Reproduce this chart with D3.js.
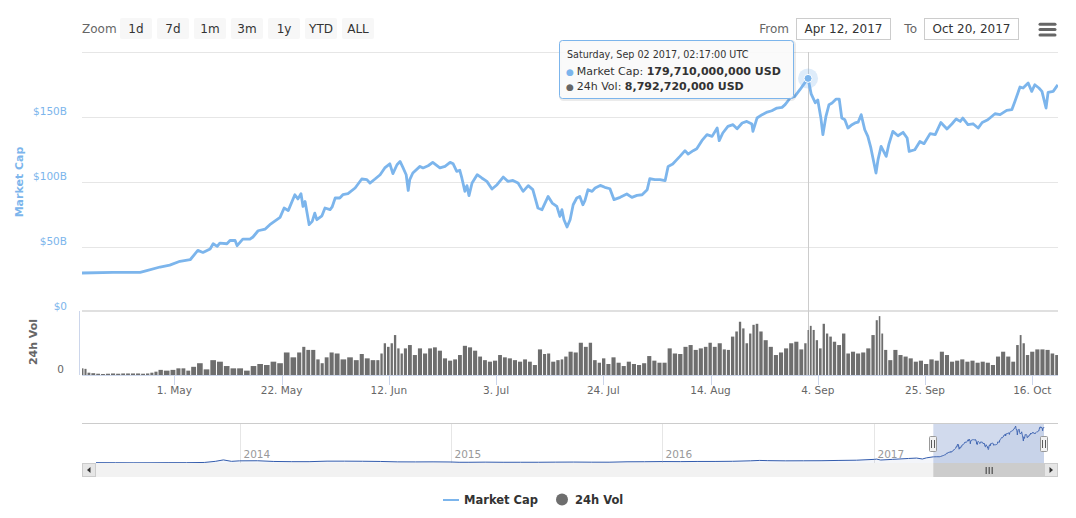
<!DOCTYPE html>
<html><head><meta charset="utf-8">
<script src="https://cdn.jsdelivr.net/npm/d3@7"></script>
<style>
html,body{margin:0;padding:0;background:#fff;}
svg{display:block;font-family:"DejaVu Sans",sans-serif;}
</style></head><body>
<svg id="chart" width="1076" height="518"></svg>
<script>
// ---------------- DATA ----------------
// Market cap (billions USD); days = offset in days from 2017-04-12 00:00 UTC
const capDays = [
 0.92, 7.0, 12.3, 13.6, 16.2, 18.1, 20.1, 22.1, 23.6, 24.6,
 26.0, 26.6, 27.4, 27.9, 29.3, 29.9, 30.9, 31.3, 32.4, 33.8,
 34.4, 35.4, 36.8, 37.7, 39.7, 40.5, 41.3, 42.6, 43.2, 43.8,
 44.2, 44.6, 45.4, 46.0, 46.5, 46.9, 47.9, 48.5, 49.5, 49.9,
 50.5, 51.4, 52.0, 53.0, 54.4, 55.7, 56.7, 57.3, 58.3, 59.3,
 60.2, 61.2, 61.8, 62.6, 63.2, 63.8, 64.4, 64.8, 65.1, 65.7,
 67.1, 67.7, 68.7, 69.6, 71.0, 72.0, 73.0, 73.6, 74.3, 74.9,
 75.3, 75.9, 76.3, 76.7, 77.3, 78.3, 79.2, 80.2, 81.2, 82.2,
 83.4, 84.3, 85.3, 86.3, 87.3, 88.3, 89.2, 90.2, 91.0, 92.2,
 93.0, 93.9, 94.5, 94.9, 95.3, 95.9, 96.5, 97.1, 97.8, 98.4,
 99.0, 99.4, 100.0, 100.8, 101.4, 102.4, 103.3, 104.3, 105.1, 106.3,
 107.6, 108.6, 109.6, 110.6, 111.6, 112.1, 113.1, 114.1, 115.1, 115.7,
 116.6, 117.4, 118.0, 119.0, 119.6, 120.6, 121.3, 122.3, 123.3, 124.3,
 125.3, 125.7, 126.4, 127.4, 128.4, 129.2, 130.2, 131.1, 132.1, 132.3,
 133.1, 134.1, 135.1, 136.0, 137.0, 138.0, 138.6, 139.6, 140.5, 141.5,
 142.1, 143.095, 143.7, 144.5, 145.0, 145.6, 146.0, 146.6, 147.2, 147.8,
 148.6, 149.2, 149.7, 150.3, 150.9, 151.7, 152.3, 152.9, 153.5, 154.2,
 154.8, 155.4, 155.8, 156.4, 156.8, 157.4, 158.4, 158.9, 159.7, 160.7,
 161.7, 162.5, 162.9, 164.0, 165.0, 165.8, 167.0, 168.0, 169.1, 170.3,
 171.3, 172.1, 172.9, 173.4, 174.4, 175.4, 176.4, 177.2, 178.3, 179.7,
 180.7, 182.0, 183.0, 183.6, 184.6, 185.2, 186.2, 186.9, 187.5, 188.3,
 188.9, 189.7, 190.1, 191.1, 192.0
];
const capValues = [
 30, 30.5, 30.5, 31.8, 34.6, 36.1, 39, 40.2, 47.4, 45.8,
 48.5, 52.5, 50.5, 53, 52.5, 55, 55, 51, 56, 56,
 57.7, 62.5, 63.8, 67.2, 72.8, 80, 78, 90.2, 87, 91,
 81.2, 85, 67.2, 69.7, 76, 71, 74, 80, 78.7, 80.8,
 87.7, 87.7, 90.2, 91, 95.4, 102.3, 101.8, 99.2, 102.3, 105.6,
 110.8, 114, 106.4, 113.3, 115.8, 110.8, 105.6, 93.5, 101.8, 106.9,
 112, 110.8, 112.5, 115.1, 110.8, 112, 115.1, 114, 108.2, 109,
 103.1, 92.8, 97.2, 89.5, 99.2, 105.6, 103.1, 100.5, 94.6, 97.9,
 103.8, 100.5, 101.2, 99.2, 92.8, 97.2, 94.1, 80, 78.7, 88.9,
 83.8, 81.2, 73.5, 78.7, 71, 65.4, 71, 82.5, 87.7, 88.9,
 82.5, 85.6, 94.1, 92.8, 95.4, 97.4, 95.9, 94.8, 86.4, 88.2,
 90.8, 88.2, 89.7, 90.2, 94.1, 102.5, 101.8, 101.8, 101, 112,
 113.8, 117.2, 119.7, 124.1, 121.5, 124.1, 125.6, 131.8, 136.4, 135.1,
 141.5, 131.8, 137.7, 142.8, 144.1, 141, 145.4, 146.6, 144.6, 138.9,
 149.2, 151.8, 153.8, 154.8, 156.9, 157.4, 159.5, 164.6, 165.8, 171,
 174.3, 179.71, 167.8, 161, 163, 149.5, 136.4, 150.5, 159.5, 160.8,
 163.8, 163.8, 149.2, 147.9, 141.5, 144.1, 145.4, 146, 151.8, 140.2,
 135.1, 126.2, 118.5, 106.9, 117.2, 127.4, 119.7, 128.7, 138.9, 135.6,
 138.2, 133.8, 123.5, 124.8, 131.2, 129.5, 137.2, 136.4, 145.8, 140.8,
 144.8, 148.5, 146.6, 149.2, 144.1, 144.8, 141.5, 145.8, 147.9, 152.5,
 151.8, 155.1, 155.6, 162, 173.1, 172.3, 176.2, 169.7, 174.8, 172.3,
 169.7, 156.9, 168.9, 169.7, 174.8
];
// 24h volume (billions USD)
const volDays = [
 1.0, 1.6, 2.2, 3.1, 4.1, 5.0, 6.0, 7.0, 8.0, 9.0,
 9.9, 10.9, 11.9, 12.9, 13.8, 14.6, 15.4, 16.2, 17.5, 18.8,
 19.8, 20.8, 21.7, 22.7, 24.0, 25.3, 26.6, 27.9, 29.3, 30.5,
 31.9, 33.2, 34.5, 35.8, 37.1, 38.4, 39.7, 41.0, 42.3, 43.6,
 44.3, 45.2, 46.2, 47.2, 47.9, 48.8, 49.8, 50.8, 52.1, 53.4,
 54.7, 55.7, 56.7, 58.0, 58.9, 59.6, 60.2, 60.9, 61.6, 62.2,
 62.9, 63.5, 64.2, 65.1, 66.1, 67.1, 68.1, 69.1, 70.0, 71.0,
 72.0, 73.0, 74.0, 74.9, 75.9, 76.9, 77.9, 78.9, 79.8, 80.8,
 81.8, 82.8, 83.7, 84.7, 85.7, 86.7, 87.7, 88.6, 89.6, 90.6,
 91.6, 92.2, 93.2, 94.2, 94.9, 95.6, 96.6, 97.6, 98.6, 99.6,
 100.5, 101.3, 102.3, 103.0, 104.0, 105.0, 106.0, 107.0, 108.0, 109.0,
 110.0, 111.0, 112.0, 113.0, 114.0, 115.0, 116.0, 117.0, 118.1, 119.1,
 120.1, 121.1, 122.1, 123.1, 123.9, 124.8, 125.8, 126.8, 127.4, 128.4,
 129.1, 129.8, 130.4, 131.1, 131.8, 132.4, 133.1, 133.8, 134.8, 135.8,
 136.8, 137.8, 138.8, 139.8, 140.8, 141.8, 142.7, 143.1, 143.6, 144.2,
 144.8, 145.5, 146.2, 146.8, 147.5, 148.2, 149.2, 150.1, 150.9, 151.9,
 152.9, 153.9, 154.9, 155.9, 156.6, 157.1, 157.6, 158.2, 159.2, 160.2,
 161.2, 162.2, 163.2, 164.2, 165.2, 166.2, 167.3, 168.3, 169.3, 170.3,
 171.3, 172.3, 173.3, 174.3, 175.3, 176.3, 177.3, 178.3, 179.3, 180.3,
 181.3, 182.3, 183.3, 184.2, 184.7, 185.3, 186.0, 187.0, 188.0, 189.0,
 190.0, 191.0, 191.8
];
const volValues = [
 1.3, 1.2, 0.45, 0.35, 0.25, 0.2, 0.25, 0.3, 0.25, 0.3,
 0.3, 0.3, 0.3, 0.25, 0.3, 0.45, 0.65, 1.0, 0.85, 1.0,
 1.3, 1.3, 0.85, 1.6, 2.3, 1.1, 2.9, 2.6, 1.75, 1.3,
 1.3, 0.85, 1.75, 2.15, 1.95, 2.6, 2.3, 4.4, 3.45, 4.4,
 5.5, 4.9, 4.9, 3.05, 2.3, 3.45, 4.4, 4.2, 3.05, 3.45,
 2.9, 4.1, 3.25, 2.9, 2.9, 4.2, 6.2, 5.5, 6.2, 7.8,
 5.2, 4.2, 5.2, 5.85, 3.9, 5.2, 4.2, 5.2, 5.4, 4.75,
 3.25, 2.8, 3.05, 3.9, 5.7, 5.4, 4.75, 3.6, 2.9, 2.6,
 2.8, 3.9, 3.45, 3.25, 2.9, 2.6, 3.05, 2.6, 1.95, 5.0,
 4.1, 4.2, 2.6, 2.9, 3.05, 3.6, 4.55, 4.4, 6.3, 5.5,
 6.3, 2.9, 2.4, 3.25, 2.15, 3.45, 2.4, 1.75, 2.6, 2.15,
 1.95, 2.3, 3.7, 2.8, 2.4, 2.4, 5.2, 4.2, 4.1, 5.5,
 5.85, 4.9, 5.2, 5.5, 6.3, 5.5, 6.2, 5.0, 4.9, 7.5,
 8.5, 10.4, 9.1, 6.2, 8.1, 9.8, 10.0, 8.5, 6.8, 5.5,
 3.9, 4.4, 5.2, 6.2, 6.5, 5.0, 6.2, 8.79, 9.6, 8.8,
 6.8, 5.2, 10.0, 8.1, 7.5, 6.5, 5.85, 8.1, 4.2, 4.55,
 4.2, 4.4, 5.2, 7.8, 10.7, 11.5, 8.1, 4.9, 2.9, 4.9,
 3.9, 3.6, 3.25, 2.6, 2.8, 2.15, 3.05, 2.8, 4.55, 3.9,
 2.6, 2.8, 3.05, 2.6, 2.8, 2.4, 2.6, 2.4, 1.95, 3.6,
 4.55, 3.6, 2.6, 5.85, 7.8, 6.2, 3.9, 4.55, 5.0, 5.0,
 4.9, 4.2, 3.9
];
// navigator history before the selected range (billions USD)
const navHistDates = ["2013-04-28","2013-06-01","2013-07-01","2013-08-01","2013-09-01","2013-10-01","2013-11-01","2013-11-20","2013-12-04","2013-12-18",
 "2014-01-01","2014-02-01","2014-03-01","2014-04-01","2014-05-01","2014-06-01","2014-07-01","2014-08-01","2014-09-01","2014-10-01","2014-11-01","2014-12-01",
 "2015-01-01","2015-01-15","2015-02-01","2015-03-01","2015-04-01","2015-05-01","2015-06-01","2015-07-01","2015-08-01","2015-09-01","2015-10-01","2015-11-01","2015-12-01",
 "2016-01-01","2016-02-01","2016-03-01","2016-04-01","2016-05-01","2016-06-01","2016-06-17","2016-07-01","2016-08-01","2016-09-01","2016-10-01","2016-11-01","2016-12-01",
 "2017-01-01","2017-01-05","2017-01-12","2017-02-01","2017-03-01","2017-03-15","2017-03-25","2017-04-01"];
const navHistValues = [1.6,1.4,1.0,1.2,1.6,1.6,2.6,8,15,8,
 10.5,11,7.5,6.5,6.5,9,9,8.5,7.5,5.5,5.3,5.6,
 4.9,3.5,3.5,4.2,3.5,3.6,3.6,4.2,4.6,4.0,3.9,5.9,6.2,
 7.0,6.7,7.5,7.6,8.3,10.6,12.5,11.5,10.5,10.8,11.1,12.5,13.6,
 17.7,19,14.5,17.6,22,24,19.5,25];

const xTickDates = ["2017-05-01","2017-05-22","2017-06-12","2017-07-03","2017-07-24","2017-08-14","2017-09-04","2017-09-25","2017-10-16"];
const xTickLabels = ["1. May","22. May","12. Jun","3. Jul","24. Jul","14. Aug","4. Sep","25. Sep","16. Oct"];
const yTickValues = [0, 50, 100, 150, 200];
const yTickLabels = ["$0", "$50B", "$100B", "$150B", ""];
const navYears = ["2014","2015","2016","2017"];
const zoomButtons = ["1d","7d","1m","3m","1y","YTD","ALL"];
const rangeFrom = "Apr 12, 2017", rangeTo = "Oct 20, 2017";
const hover = {day: 143.095, cap: 179.71, vol: 8.79,
  title: "Saturday, Sep 02 2017, 02:17:00 UTC",
  capText: "179,710,000,000 USD", volText: "8,792,720,000 USD"};

// ---------------- CHART ----------------
const svg = d3.select("#chart");
const DAY = 864e5, BASE = Date.UTC(2017,3,12);
const toDate = d => new Date(BASE + d*DAY);
const C_LINE = "#7cb5ec", C_VOL = "#6e6e6e";

const x = d3.scaleUtc().domain([new Date(Date.UTC(2017,3,12,22)), new Date(Date.UTC(2017,9,21,1))]).range([82,1058]);
const y = d3.scaleLinear().domain([0,200]).range([312,52]);
const yVol = d3.scaleLinear().domain([0,12.5]).range([375,311]);

svg.append("defs").append("clipPath").attr("id","plotclip")
  .append("rect").attr("x",82).attr("y",40).attr("width",976).attr("height",340);

// range selector
const rs = svg.append("g");
rs.append("text").attr("x",82).attr("y",33).attr("font-size",12).attr("fill","#666").text("Zoom");
zoomButtons.forEach((b,i)=>{
  const bx = 120 + i*37;
  rs.append("rect").attr("x",bx).attr("y",18).attr("width",32).attr("height",21).attr("rx",2).attr("fill","#f7f7f7");
  rs.append("text").attr("x",bx+16).attr("y",33).attr("text-anchor","middle").attr("font-size",12).attr("fill","#333").text(b);
});
rs.append("text").attr("x",789).attr("y",33).attr("text-anchor","end").attr("font-size",12).attr("fill","#666").text("From");
rs.append("rect").attr("x",796.5).attr("y",18.5).attr("width",94).attr("height",21).attr("fill","#fff").attr("stroke","#ccc");
rs.append("text").attr("x",843.5).attr("y",33).attr("text-anchor","middle").attr("font-size",12).attr("fill","#333").text(rangeFrom);
rs.append("text").attr("x",917).attr("y",33).attr("text-anchor","end").attr("font-size",12).attr("fill","#666").text("To");
rs.append("rect").attr("x",924.5).attr("y",18.5).attr("width",94).attr("height",21).attr("fill","#fff").attr("stroke","#ccc");
rs.append("text").attr("x",971.5).attr("y",33).attr("text-anchor","middle").attr("font-size",12).attr("fill","#333").text(rangeTo);
[24.3, 29.6, 34.9].forEach(yy=>{
  rs.append("line").attr("x1",1040).attr("x2",1055).attr("y1",yy).attr("y2",yy)
    .attr("stroke","#666").attr("stroke-width",3).attr("stroke-linecap","round");
});

// gridlines
const grid = svg.append("g");
yTickValues.filter(v=>v>0).forEach(v=>{
  const yy = Math.round(y(v))+0.5;
  grid.append("line").attr("x1",82).attr("x2",1058).attr("y1",yy).attr("y2",yy).attr("stroke","#e6e6e6");
});
grid.append("line").attr("x1",82).attr("x2",1058).attr("y1",311).attr("y2",311).attr("stroke","#e0e0e0").attr("stroke-width",2);

// y labels
yTickValues.forEach((v,i)=>{
  if(!yTickLabels[i]) return;
  svg.append("text").attr("x",67).attr("y",y(v)-2.4).attr("text-anchor","end")
    .attr("font-size",10.5).attr("fill",C_LINE).text(yTickLabels[i]);
});
svg.append("text").attr("transform","translate(23,182) rotate(-90)").attr("text-anchor","middle")
  .attr("font-size",11).attr("font-weight","bold").attr("fill",C_LINE).text("Market Cap");
svg.append("text").attr("transform","translate(36.5,342) rotate(-90)").attr("text-anchor","middle")
  .attr("font-size",11).attr("font-weight","bold").attr("fill","#666").text("24h Vol");
svg.append("text").attr("x",64).attr("y",yVol(0)-2.5).attr("text-anchor","end")
  .attr("font-size",10.5).attr("fill","#666").text("0");
svg.append("line").attr("x1",79.5).attr("x2",79.5).attr("y1",311).attr("y2",375).attr("stroke","#ccd6eb");

// crosshair
const hx = Math.round(x(toDate(hover.day)))+0.5;
svg.append("line").attr("x1",hx).attr("x2",hx).attr("y1",52).attr("y2",375).attr("stroke","#cccccc");

// volume bars
const plot = svg.append("g").attr("clip-path","url(#plotclip)");
const vx = volDays.map(d=>x(toDate(d)));
const edgeL = i => i>0 ? (vx[i-1]+vx[i])/2 : vx[i]-(vx[i+1]-vx[i])/2;
const edgeR = i => i<vx.length-1 ? (vx[i]+vx[i+1])/2 : vx[i]+(vx[i]-vx[i-1])/2;
plot.append("g").selectAll("rect").data(volValues).join("rect")
  .attr("x",(v,i)=>edgeL(i)+0.5)
  .attr("width",(v,i)=>Math.max(0.8, edgeR(i)-edgeL(i)-1.0))
  .attr("y",v=>yVol(v)).attr("height",v=>375-yVol(v)).attr("fill",C_VOL);

// market cap line
const capData = capDays.map((d,i)=>({date:toDate(d), v:capValues[i]}));
plot.append("path").datum(capData)
  .attr("d", d3.line().x(p=>x(p.date)).y(p=>y(p.v)))
  .attr("fill","none").attr("stroke",C_LINE).attr("stroke-width",2.8).attr("stroke-linejoin","round");

// x axis
svg.append("line").attr("x1",82).attr("x2",1058).attr("y1",375.5).attr("y2",375.5).attr("stroke","#ccd6eb");
xTickDates.forEach((ds,i)=>{
  const d = new Date(ds+"T00:00:00Z");
  const tx = Math.round(x(d))+0.5;
  svg.append("line").attr("x1",tx).attr("x2",tx).attr("y1",375).attr("y2",385).attr("stroke","#ccd6eb");
  svg.append("text").attr("x",x(d)).attr("y",394).attr("text-anchor","middle")
    .attr("font-size",10.5).attr("fill","#666").text(xTickLabels[i]);
});

// hover marker
const mx = x(toDate(hover.day)), my = y(hover.cap);
svg.append("circle").attr("cx",mx).attr("cy",my).attr("r",10).attr("fill",C_LINE).attr("opacity",0.25);
svg.append("circle").attr("cx",mx).attr("cy",my).attr("r",4).attr("fill",C_LINE).attr("stroke","#fff").attr("stroke-width",1);

// tooltip
const tt = svg.append("g");
tt.append("rect").attr("x",560.5).attr("y",41.5).attr("width",234).attr("height",58).attr("rx",3)
  .attr("fill","none").attr("stroke","rgba(0,0,0,0.08)").attr("stroke-width",3);
tt.append("rect").attr("x",559.5).attr("y",40.5).attr("width",234).attr("height",58).attr("rx",3)
  .attr("fill","rgba(250,250,250,0.92)").attr("stroke",C_LINE);
tt.append("text").attr("x",567).attr("y",58).attr("font-size",9.6).attr("fill","#333").text(hover.title);
const t2 = tt.append("text").attr("x",566).attr("y",75).attr("font-size",11).attr("fill","#333");
t2.append("tspan").attr("fill",C_LINE).attr("font-size",9).text("● ");
t2.append("tspan").text("Market Cap: ");
t2.append("tspan").attr("font-weight","bold").text(hover.capText);
const t3 = tt.append("text").attr("x",566).attr("y",90).attr("font-size",11).attr("fill","#333");
t3.append("tspan").attr("fill","#666").attr("font-size",9).text("● ");
t3.append("tspan").text("24h Vol: ");
t3.append("tspan").attr("font-weight","bold").text(hover.volText);

// ---------------- NAVIGATOR ----------------
const navX = d3.scaleUtc().domain([new Date("2013-04-28T00:00:00Z"), x.domain()[1]]).range([96,1044]);
const navY = d3.scaleLinear().domain([0,180]).range([463,426]);
const navData = navHistDates.map((d,i)=>({date:new Date(d+"T00:00:00Z"), v:navHistValues[i]})).concat(capData);
const nav = svg.append("g");
navYears.forEach(yr=>{
  const gx = Math.round(navX(new Date(yr+"-01-01T00:00:00Z")))+0.5;
  nav.append("line").attr("x1",gx).attr("x2",gx).attr("y1",423).attr("y2",463).attr("stroke","#e6e6e6");
  nav.append("text").attr("x",gx+3).attr("y",458).attr("font-size",10.5).attr("fill","#999").text(yr);
});
nav.append("path").datum(navData)
  .attr("d", d3.area().x(p=>navX(p.date)).y0(463).y1(p=>navY(p.v)))
  .attr("fill","#335cad").attr("fill-opacity",0.06);
nav.append("path").datum(navData)
  .attr("d", d3.line().x(p=>navX(p.date)).y(p=>navY(p.v)))
  .attr("fill","none").attr("stroke","#335cad").attr("stroke-width",1);
const mL = navX(x.domain()[0]), mR = navX(x.domain()[1]);
nav.append("rect").attr("x",mL).attr("y",423).attr("width",mR-mL).attr("height",40).attr("fill","rgba(102,133,194,0.3)");
nav.append("line").attr("x1",82).attr("x2",1058).attr("y1",423.5).attr("y2",423.5).attr("stroke","#cccccc");
[mL, mR].forEach(hxp=>{
  const cx = Math.round(hxp);
  nav.append("rect").attr("x",cx-3.5).attr("y",436.5).attr("width",7).attr("height",15).attr("rx",1)
    .attr("fill","#f2f2f2").attr("stroke","#999");
  [-1.5,1.5].forEach(o=>nav.append("line").attr("x1",cx+o).attr("x2",cx+o).attr("y1",440).attr("y2",448).attr("stroke","#333").attr("stroke-width",0.8));
});
// scrollbar
nav.append("rect").attr("x",82).attr("y",463).attr("width",976).attr("height",14).attr("fill","#f2f2f2");
nav.append("rect").attr("x",mL).attr("y",463).attr("width",mR-mL).attr("height",14).attr("fill","#cccccc");
[-3,0,3].forEach(o=>nav.append("line").attr("x1",(mL+mR)/2+o+0.5).attr("x2",(mL+mR)/2+o+0.5).attr("y1",467).attr("y2",474).attr("stroke","#333").attr("stroke-width",1));
[[82,-1],[1044,1]].forEach(([bx,dir])=>{
  nav.append("rect").attr("x",bx+0.5).attr("y",463.5).attr("width",13).attr("height",13).attr("fill","#e6e6e6").attr("stroke","#cccccc");
  const cx = bx+7, cy = 470;
  nav.append("path").attr("d",`M${cx+dir*2},${cy} L${cx-dir*1.5},${cy-3} L${cx-dir*1.5},${cy+3} Z`).attr("fill","#333");
});

// legend
const lg = svg.append("g");
lg.append("line").attr("x1",443).attr("x2",459).attr("y1",500).attr("y2",500).attr("stroke",C_LINE).attr("stroke-width",2);
lg.append("text").attr("x",464).attr("y",504).attr("font-size",11.5).attr("font-weight","bold").attr("fill","#333").text("Market Cap");
lg.append("circle").attr("cx",562).attr("cy",499.5).attr("r",6).attr("fill",C_VOL);
lg.append("text").attr("x",575).attr("y",504).attr("font-size",11.5).attr("font-weight","bold").attr("fill","#333").text("24h Vol");
</script>
</body></html>
